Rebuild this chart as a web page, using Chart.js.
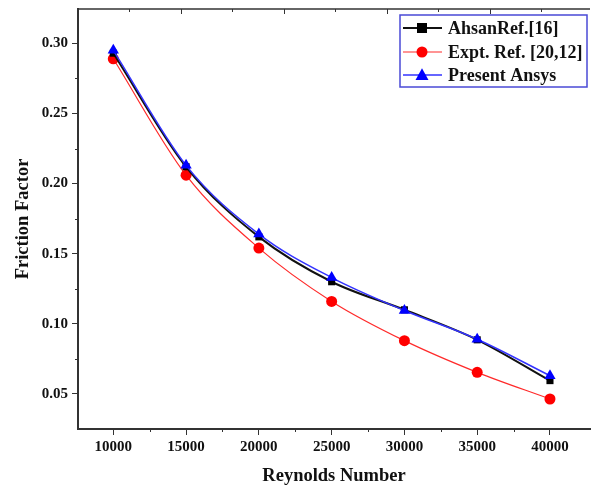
<!DOCTYPE html>
<html><head><meta charset="utf-8">
<script src="https://cdn.jsdelivr.net/npm/chart.js@4.4.1/dist/chart.umd.min.js"></script>
<style>html,body{margin:0;padding:0;background:#fff;overflow:hidden}#wrap{width:591px;height:485px;position:relative}</style>
</head><body><div id="wrap"><canvas id="c"></canvas></div>
<script>
const reynolds = [10000, 15000, 20000, 25000, 30000, 35000, 40000];
const ahsanRef = [0.293, 0.212, 0.162, 0.130, 0.110, 0.0886, 0.0595];
const exptRef = [0.289, 0.206, 0.154, 0.116, 0.088, 0.0654, 0.0464];
const presentAnsys = [0.295, 0.213, 0.164, 0.133, 0.1095, 0.089, 0.063];
const seriesLabels = ['AhsanRef.[16]', 'Expt. Ref. [20,12]', 'Present Ansys'];
const xTickValues = [10000, 12500, 15000, 17500, 20000, 22500, 25000, 27500, 30000, 32500, 35000, 37500, 40000];
const yTickValues = [0.05, 0.075, 0.10, 0.125, 0.15, 0.175, 0.20, 0.225, 0.25, 0.275, 0.30];

const FONT = '"Liberation Serif", "Times New Roman", serif';
const AXIS = '#333333';

function pts(ys){ return reynolds.map((x,i)=>({x:x,y:ys[i]})); }
function isMajor(v, step){ return Math.abs(v/step - Math.round(v/step)) < 1e-6; }

const styles = [
  {color:'#000000', line:'#111111', width:2, style:'rect', r:5},
  {color:'#ff0000', line:'#ff2a2a', width:1.2, style:'circle', r:5.5},
  {color:'#0000ff', line:'#3333ff', width:1.5, style:'triangle', r:6.5}
];
const seriesData = [ahsanRef, exptRef, presentAnsys];
const orders = [1, 2, 0];

function drawMarker(ctx, style, x, y, r, color){
  ctx.save();
  ctx.fillStyle = color;
  ctx.beginPath();
  if (style === 'rect') { ctx.rect(x-r, y-r, 2*r, 2*r); }
  else if (style === 'circle') { ctx.arc(x, y, r, 0, Math.PI*2); }
  else { ctx.moveTo(x, y-r*1.05); ctx.lineTo(x+r, y+r*0.75); ctx.lineTo(x-r, y+r*0.75); ctx.closePath(); }
  ctx.fill();
  ctx.restore();
}

const framePlugin = {
  id: 'frame',
  afterDraw(chart){
    const ctx = chart.ctx, a = chart.chartArea;
    const xs = chart.scales.x, ys = chart.scales.y;
    ctx.save();
    ctx.strokeStyle = AXIS;
    ctx.lineWidth = 1.5;
    ctx.beginPath(); ctx.moveTo(a.left, a.top); ctx.lineTo(a.right, a.top); ctx.stroke();
    ctx.lineWidth = 1;
    xTickValues.forEach(v=>{ if(!isMajor(v,5000)){ const px = Math.round(xs.getPixelForValue(v))+0.5; ctx.beginPath(); ctx.moveTo(px, a.bottom); ctx.lineTo(px, a.bottom+3); ctx.stroke(); }});
    yTickValues.forEach(v=>{ if(!isMajor(v,0.05)){ const py = Math.round(ys.getPixelForValue(v))+0.5; ctx.beginPath(); ctx.moveTo(a.left, py); ctx.lineTo(a.left-3, py); ctx.stroke(); }});
    const step = (a.right - a.left) / 9.95;
    for (let k=1; k*step < a.right - a.left - 2; k++){
      const px = Math.round(a.left + k*step)+0.5;
      ctx.beginPath(); ctx.moveTo(px, a.top); ctx.lineTo(px, a.top + (k%2===0?5:3)); ctx.stroke();
    }
    ctx.restore();

    const bx = 400, by = 15, bw = 187, bh = 72;
    ctx.save();
    ctx.fillStyle = '#ffffff';
    ctx.fillRect(bx, by, bw, bh);
    ctx.strokeStyle = '#4a4ad6';
    ctx.lineWidth = 1.5;
    ctx.strokeRect(bx, by, bw, bh);
    ctx.font = 'bold 18px ' + FONT;
    ctx.textBaseline = 'middle';
    ctx.textAlign = 'left';
    const rows = [28, 52, 75];
    styles.forEach((s, i)=>{
      const y = rows[i];
      ctx.strokeStyle = s.line; ctx.lineWidth = s.width;
      ctx.beginPath(); ctx.moveTo(403, y); ctx.lineTo(442, y); ctx.stroke();
      drawMarker(ctx, s.style, 422, y, s.r, s.color);
      ctx.fillStyle = '#111111';
      ctx.fillText(seriesLabels[i], 448, y+1);
    });
    ctx.restore();
  }
};

const datasets = seriesData.map((ys, i)=>({
  label: seriesLabels[i],
  data: pts(ys),
  borderColor: styles[i].line,
  backgroundColor: styles[i].color,
  borderWidth: styles[i].width,
  pointStyle: styles[i].style,
  pointRadius: styles[i].r,
  pointBorderWidth: 0,
  pointBackgroundColor: styles[i].color,
  pointBorderColor: styles[i].color,
  tension: 0.4,
  cubicInterpolationMode: 'monotone',
  order: orders[i],
  fill: false
}));

new Chart(document.getElementById('c'), {
  type: 'line',
  data: { datasets: datasets },
  options: {
    responsive: true,
    maintainAspectRatio: false,
    animation: false,
    layout: { autoPadding: false, padding: { left: 0, top: 9, right: 1, bottom: 0 } },
    plugins: { legend: { display: false }, tooltip: { enabled: false } },
    scales: {
      x: {
        type: 'linear',
        min: 7575, max: 42750,
        afterBuildTicks: s => { s.ticks = xTickValues.map(v=>({value:v})); },
        afterFit: s => { s.height = 56; s.paddingLeft = 0; s.paddingRight = 0; },
        border: { display: true, color: AXIS, width: 2 },
        grid: { drawOnChartArea: false, drawTicks: true, tickLength: 6, tickColor: c => isMajor(c.tick.value,5000) ? AXIS : 'rgba(0,0,0,0)', tickWidth: 1 },
        ticks: { color: '#111', padding: 3, maxRotation: 0, autoSkip: false, font: { family: FONT, size: 15, weight: 'bold' },
          callback: v => isMajor(v,5000) ? String(v) : '' },
        title: { display: true, text: 'Reynolds Number', color: '#111', padding: { top: 0, bottom: 0 }, font: { family: FONT, size: 18.5, weight: 'bold', lineHeight: 1 } }
      },
      y: {
        type: 'linear',
        min: 0.025, max: 0.3245,
        afterBuildTicks: s => { s.ticks = yTickValues.map(v=>({value:v})); },
        afterFit: s => { s.width = 78; s.paddingTop = 0; s.paddingBottom = 0; },
        border: { display: true, color: AXIS, width: 2 },
        grid: { drawOnChartArea: false, drawTicks: true, tickLength: 6, tickColor: c => isMajor(c.tick.value,0.05) ? AXIS : 'rgba(0,0,0,0)', tickWidth: 1 },
        ticks: { color: '#111', padding: 4, autoSkip: false, font: { family: FONT, size: 15, weight: 'bold' },
          callback: v => isMajor(v,0.05) ? v.toFixed(2) : '' },
        title: { display: true, text: 'Friction Factor', color: '#111', padding: { top: 14, bottom: 0 }, font: { family: FONT, size: 18.5, weight: 'bold', lineHeight: 1 } }
      }
    }
  },
  plugins: [framePlugin]
});
</script>
</body></html>
